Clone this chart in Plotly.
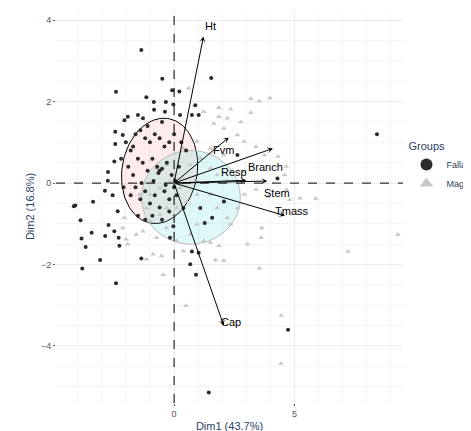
import numpy as np
import plotly.graph_objects as go

# individuals (Dim1, Dim2)
fallax_x = [-1.36, -0.49, 1.54, -2.41, -0.08, -1.15, -0.84, -0.34, 0.22, -0.03, 0.88, -0.83, -0.38,
            -1.92, -1.5, -2.06, -1.29, 0.25, 0.74, 1.02, -2.44, -2.13,
            -4.16, -4.1, -3.88, -3.84, -3.67, -3.81, -3.42, -3.36, -3.07, -2.86, -2.72, -2.55, -2.87,
            -2.75, -2.74, -2.44, -2.48, -2.41, -2.27, -2.3, -2.48, -2.34, -1.36, 8.42, 4.73, 1.44,
            0.67, 0.91, 0.74, 1.02, 1.58, 2.07, 2.63, 4.29, -0.03, -0.17, 0.39, 1.09, 1.27,
            -2.0, -1.8, -1.6, -1.4, -1.2, -1.0, -0.8, -0.6, -0.4, -0.2, 0.0, 0.3, 0.5, -1.9, -1.7,
            -1.5, -1.3, -1.1, -0.9, -0.7, -0.6, -0.5, -0.65, -0.3, -0.1, 0.2, -2.1, -1.8, -1.6, -1.4,
            -1.2, -1.0, -0.8, -0.6, -0.4, -0.2, 0.1, -1.5, -1.2, -0.9, -0.5, -0.2, -1.7, -1.1, -0.5,
            -2.2, -1.35, -0.85, -0.35, 0.05, 0.0]
fallax_y = [3.27, 2.56, 2.58, 2.24, 2.28, 2.11, 1.99, 1.99, 2.25, 1.93, 1.91, 1.8, 1.75,
            1.63, 1.67, 1.54, 1.59, 1.67, 1.67, 1.67, 1.26, 1.18,
            -0.57, -0.55, -0.91, -1.36, -1.57, -2.1, -1.22, -0.46, -1.89, -1.3, -1.03, -0.3, -0.19,
            0.06, 0.27, 0.96, 0.53, -2.46, -1.54, -1.34, -1.18, -0.69, -1.85, 1.2, -3.6, -5.14,
            -1.99, -2.25, -1.68, -1.71, -0.85, -0.45, 0.69, 0.11, -1.06, -1.34, -0.61, -0.61, -0.98,
            1.0, 0.8, 1.2, 1.3, 1.1, 1.0, 1.2, 1.1, 0.9, 1.0, 1.2, 1.0, 0.8, 0.4, 0.2,
            0.6, 0.5, 0.3, 0.6, 0.4, 0.3, 0.35, 0.25, 0.5, 0.2, 0.4, -0.1, -0.3, -0.1, -0.4,
            -0.2, -0.5, -0.3, -0.6, -0.2, -0.4, -0.3, -0.8, -0.9, -0.8, -0.9, -0.7, 0.9, 1.4, 1.5,
            0.6, 0.0, 0.05, -0.05, 0.05, -0.1]
mag_x = [0.6, 3.19, 3.54, 3.98, 1.86, 2.35, 3.19, 1.23, 1.86, 2.21, 2.77, 1.65, 2.07, 2.63, 2.91,
         3.4, 3.75, 4.31, 4.66, 4.59, 4.66, 4.8, 5.22, 5.88, 3.89, 3.4, 2.91, 9.29, 7.21, 3.64,
         3.61, 3.05, 1.86, 1.51, 2.07, 1.72, 3.54, 0.49, -0.45, 4.45, 4.43, -0.52, -0.87, -1.15,
         -1.99, -1.92, -2.13, -2.06, -1.57, -1.29, -1.01, -0.59, -0.31, -1.15, -1.43, -1.01, -0.59,
         -0.17, 0.25, 0.67, 1.09, 1.51, 1.79, 2.21, 1.51, 0.95, 0.53, 0.11, 1.79, 2.21, 0.95, 0.67,
         0.39, 0.11, 1.23, -0.31, -0.73, 2.35, 2.63, 2.91, 0.95, 0.39, 1.51, 2.07, 0.95, -0.31, -0.73]
mag_y = [2.33, 2.07, 2.01, 2.09, 1.85, 1.81, 1.73, 1.75, 1.63, 1.59, 1.5, 1.46, 1.34, 1.18, 1.02,
         0.89, 0.69, 0.65, 0.41, 0.2, -0.16, -0.41, -0.37, -0.38, -0.33, -0.16, -0.28, -1.26, -1.68, -1.1,
         -1.34, -1.5, -1.54, -1.46, -1.91, -1.89, -2.09, -3.01, -2.25, -3.25, -4.43, -1.79, -1.75, -1.87,
         -1.38, -1.5, -1.1, -0.85, -1.26, -1.18, -0.93, -0.77, -0.61, -0.61, -0.28, -0.28, -0.12,
         0.04, -0.12, 0.45, 0.61, 0.37, 0.2, 0.04, -0.28, -0.28, -0.45, -0.61, -0.61, -0.85, -1.02, -1.26,
         -1.67, -1.42, -1.42, -1.1, -1.34, -1.02, -0.61, 0.28, 1.02, 0.85, 0.85, 0.69, 0.04, 0.45, 0.37]

# variables (loadings, scaled)
var_names = ["Ht", "Fvm", "Branch", "Resp", "Stem", "Tmass", "Cap"]
var_x = [1.22, 2.27, 4.1, 3.0, 3.87, 4.6, 2.06]
var_y = [3.6, 1.12, 0.85, 0.07, 0.05, -0.8, -3.5]
label_dx = [0.3, -0.2, -0.3, -0.5, 0.4, 0.3, 0.3]
label_dy = [0.25, -0.3, -0.45, 0.2, -0.3, 0.12, 0.1]


def ellipse(cx, cy, a, b, ang):
    t = np.linspace(0, 2 * np.pi, 120)
    c, s = np.cos(ang), np.sin(ang)
    ex = a * np.cos(t)
    ey = b * np.sin(t)
    return cx + ex * c - ey * s, cy + ex * s + ey * c


fig = go.Figure()

fx, fy = ellipse(-0.6, 0.3, 1.6, 1.27, 0.25)
mx, my = ellipse(0.7, -0.35, 2.05, 1.15, 0.0)
fig.add_trace(go.Scatter(x=fx, y=fy, mode="lines", fill="toself", fillcolor="rgba(248,118,109,0.13)",
                         line=dict(color="black", width=1), showlegend=False, hoverinfo="skip"))
fig.add_trace(go.Scatter(x=mx, y=my, mode="lines", fill="toself", fillcolor="rgba(0,191,196,0.13)",
                         line=dict(color="#bbbbbb", width=1), showlegend=False, hoverinfo="skip"))

fig.add_trace(go.Scatter(x=mag_x, y=mag_y, mode="markers", name="Mag",
                         marker=dict(symbol="triangle-up", size=5, color="#c8c8c8")))
fig.add_trace(go.Scatter(x=fallax_x, y=fallax_y, mode="markers", name="Fallax",
                         marker=dict(symbol="circle", size=4, color="#2b2b2b")))

fig.add_hline(y=0, line=dict(color="black", width=1, dash="dash"))
fig.add_vline(x=0, line=dict(color="black", width=1, dash="dash"))

for n, x, y, dx, dy in zip(var_names, var_x, var_y, label_dx, label_dy):
    fig.add_annotation(x=x, y=y, ax=0, ay=0, xref="x", yref="y", axref="x", ayref="y",
                       showarrow=True, arrowhead=3, arrowsize=1, arrowwidth=1, arrowcolor="black", text="")
    fig.add_annotation(x=x + dx, y=y + dy, text=n, showarrow=False,
                       font=dict(size=11, color="black"))

axis_common = dict(showgrid=True, gridcolor="#ebebeb", zeroline=False, showline=False,
                   ticks="outside", ticklen=2, tickcolor="#555", tickfont=dict(size=9, color="#555"),
                   minor=dict(showgrid=True, gridcolor="#f5f5f5"))
fig.update_layout(
    width=471, height=431, paper_bgcolor="white", plot_bgcolor="white",
    margin=dict(l=48, r=76, t=2, b=36, autoexpand=False),
    font=dict(family="Liberation Sans, Arial, sans-serif"),
    xaxis=dict(range=[-4.9, 9.5], dtick=5, title=dict(text="Dim1 (43.7%)", font=dict(size=11), standoff=4),
               **axis_common),
    yaxis=dict(range=[-5.4, 4.25], dtick=2, title=dict(text="Dim2 (16.8%)", font=dict(size=11), standoff=4),
               **axis_common),
    legend=dict(title=dict(text="Groups", font=dict(size=11)), x=1.01, y=0.6, yanchor="middle",
                font=dict(size=9), traceorder="reversed", itemsizing="constant"),
)

fig.write_html("out.html")
